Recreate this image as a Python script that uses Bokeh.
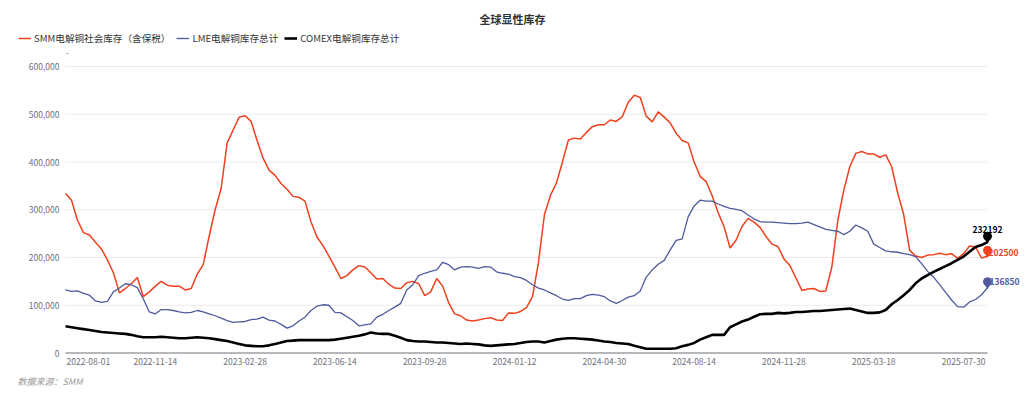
from bokeh.plotting import figure
from bokeh.models import ColumnDataSource, Range1d, Legend, LegendItem
from bokeh.embed import file_html
from bokeh.resources import INLINE
from bokeh.core.properties import value

# ---------------- data (tonnes, weekly samples) ----------------
smm = [334000, 320000, 278000, 252000, 247000, 232000, 218000, 195000, 168000, 126000,
       135000, 145000, 158000, 118000, 128000, 140000, 150000, 142000, 140000, 140000,
       132000, 135000, 165000, 185000, 245000, 300000, 345000, 440000, 467000, 494000,
       497000, 485000, 445000, 408000, 383000, 372000, 355000, 343000, 328000, 326000,
       318000, 275000, 243000, 225000, 203000, 180000, 156000, 162000, 174000, 183000,
       180000, 168000, 155000, 156000, 144000, 136000, 135000, 147000, 150000, 145000,
       120000, 128000, 156000, 140000, 105000, 82000, 78000, 69000, 67000, 69000,
       72000, 74000, 69000, 68000, 84000, 83000, 87000, 95000, 118000, 190000,
       290000, 330000, 356000, 400000, 446000, 450000, 448000, 462000, 474000, 478000,
       478000, 488000, 485000, 495000, 525000, 540000, 535000, 496000, 484000, 505000,
       494000, 482000, 460000, 445000, 440000, 400000, 370000, 359000, 330000, 294000,
       265000, 220000, 236000, 265000, 282000, 274000, 263000, 244000, 228000, 223000,
       197000, 183000, 157000, 131000, 134000, 135000, 129000, 130000, 180000, 278000,
       341000, 390000, 418000, 422000, 417000, 417000, 410000, 415000, 390000, 335000,
       290000, 215000, 203000, 200000, 205000, 206000, 209000, 206000, 208000, 198000,
       208000, 224000, 222000, 199000, 202500]

lme = [132000, 129000, 130000, 125000, 121000, 109000, 106000, 108000, 128000, 136000,
       145000, 143000, 137000, 113000, 86000, 82000, 91000, 91000, 89000, 86000,
       84000, 85000, 89000, 86000, 82000, 78000, 73000, 68000, 64000, 65000,
       66000, 70000, 71000, 75000, 69000, 67000, 60000, 52000, 57000, 67000,
       75000, 89000, 98000, 101000, 100000, 85000, 84000, 76000, 68000, 57000,
       59000, 61000, 75000, 81000, 89000, 96000, 104000, 132000, 143000, 162000,
       167000, 171000, 174000, 190000, 185000, 174000, 180000, 181000, 180000, 177000,
       181000, 180000, 170000, 167000, 165000, 160000, 158000, 152000, 143000, 136000,
       132000, 126000, 120000, 113000, 110000, 114000, 114000, 120000, 123000, 121000,
       118000, 109000, 104000, 110000, 117000, 120000, 130000, 159000, 174000, 186000,
       194000, 216000, 236000, 239000, 285000, 308000, 320000, 318000, 318000, 312000,
       307000, 303000, 301000, 298000, 289000, 281000, 275000, 274000, 274000, 273000,
       272000, 271000, 271000, 272000, 274000, 269000, 264000, 259000, 257000, 255000,
       248000, 255000, 268000, 262000, 255000, 228000, 221000, 214000, 212000, 211000,
       208000, 206000, 202000, 187000, 171000, 159000, 143000, 127000, 111000, 97000,
       96000, 107000, 112000, 122000, 136850]

comex = [56000, 54000, 52000, 50000, 48000, 46000, 44000, 43000, 42000, 41000,
         40000, 38000, 35000, 33000, 33000, 33000, 34000, 33000, 32000, 31000,
         31000, 32000, 33000, 32000, 31000, 29000, 27000, 25000, 22000, 19000,
         16000, 15000, 14000, 14000, 16000, 19000, 22000, 25000, 26000, 27000,
         27000, 27000, 27000, 27000, 27000, 28000, 30000, 32000, 34000, 36000,
         39000, 43000, 41000, 40000, 40000, 36000, 32000, 27000, 25000, 24000,
         24000, 23000, 22000, 22000, 21000, 20000, 19000, 20000, 19000, 18000,
         16000, 15000, 16000, 17000, 18000, 19000, 21000, 23000, 24000, 24000,
         22000, 25000, 28000, 30000, 31000, 31000, 30000, 29000, 28000, 26000,
         24000, 23000, 21000, 20000, 19000, 15000, 12000, 9000, 9000, 9000,
         9000, 9000, 10000, 14000, 17000, 21000, 28000, 33000, 38000, 38000,
         38000, 54000, 60000, 66000, 70000, 76000, 81000, 82000, 82000, 84000,
         83000, 84000, 86000, 86000, 87000, 88000, 88000, 89000, 90000, 91000,
         92000, 93000, 90000, 87000, 84000, 84000, 85000, 90000, 102000, 111000,
         121000, 132000, 146000, 156000, 163000, 170000, 176000, 182000, 188000, 195000,
         202000, 212000, 222000, 226000, 232192]

tick_labels = ["2022-08-01", "2022-11-14", "2023-02-28", "2023-06-14", "2023-09-28",
               "2024-01-12", "2024-04-30", "2024-08-14", "2024-11-28", "2025-03-18",
               "2025-07-30"]
series_names = ["SMM电解铜社会库存（含保税）", "LME电解铜库存总计", "COMEX电解铜库存总计"]
title_text = "全球显性库存"
source_text = "数据来源：SMM"
y_ticks = [0, 100000, 200000, 300000, 400000, 500000, 600000]

# ---------------- layout / styling ----------------
FONT = "Noto Sans CJK SC"
RED, BLUE, BLACK = "#f0401e", "#4e5a9e", "#000000"
AXIS_C = "#6e7079"
LABEL_C = "#6e7079"

W, H = 1024, 399
PL, PR, PT, PB = 65.0, 987.0, 66.0, 352.5   # plotting area in canvas pixels
YMAX = 600000

n = len(smm)
S = (PR - PL) / (n - 1)        # px per sample
K = (PB - PT) / YMAX           # px per tonne


def dx(px):
    return (px - PL) / S


def dy(py):
    return (PB - py) / K


p = figure(width=W, height=H, output_backend="svg", toolbar_location=None, title=None,
           x_range=Range1d(dx(0), dx(W)), y_range=Range1d(dy(H), dy(0)),
           x_axis_location=None, y_axis_location=None, min_border=0)
p.outline_line_color = None
p.background_fill_color = "white"
p.border_fill_color = "white"
for g in list(p.grid):
    g.visible = False

x = list(range(n))
src = ColumnDataSource(dict(x=x, smm=smm, lme=lme, comex=comex))

# grid lines and x axis line from the tick values
grid_vals = [v for v in y_ticks if v > 0]
p.segment(x0=[0] * len(grid_vals), x1=[n - 1] * len(grid_vals), y0=grid_vals, y1=grid_vals,
          line_color="#ececec", line_width=1)
p.segment(x0=[0], x1=[n - 1], y0=[0], y1=[0], line_color=AXIS_C, line_width=1)

# y tick labels
p.text(x=[0] * len(y_ticks), y=y_ticks, text=["{:,}".format(v) for v in y_ticks],
       x_offset=-6, text_align="right", text_baseline="middle", text_color=LABEL_C,
       text_font=value(FONT), text_font_size="8.5px")

# x tick labels (every 15 weekly samples; first label left-aligned to the axis start)
step = 15
xt = [k * step for k in range(len(tick_labels))]
p.text(x=xt[:1], y=[0], text=tick_labels[:1], x_offset=1, y_offset=5,
       text_align="left", text_baseline="top", text_color=LABEL_C,
       text_font=value(FONT), text_font_size="8.5px")
p.text(x=xt[1:], y=[0] * (len(xt) - 1), text=tick_labels[1:], y_offset=5,
       text_align="center", text_baseline="top", text_color=LABEL_C,
       text_font=value(FONT), text_font_size="8.5px")

# series lines
r_smm = p.line("x", "smm", source=src, line_color=RED, line_width=1.5)
r_lme = p.line("x", "lme", source=src, line_color=BLUE, line_width=1.3)
r_cmx = p.line("x", "comex", source=src, line_color=BLACK, line_width=2.6)

# end-point pins and value labels
for arr, col, ox, oy, align in [(smm, RED, 1, -4, "left"), (lme, BLUE, 2, -6, "left"),
                                (comex, BLACK, 0, -13, "center")]:
    last = arr[-1]
    p.scatter([n - 1], [last + 6 / K], size=8, marker="circle", fill_color=col, line_color=col)
    p.scatter([n - 1], [last + 2 / K], size=5, marker="inverted_triangle",
              fill_color=col, line_color=col)
    p.text([n - 1], [last], text=["%d" % last], x_offset=ox, y_offset=oy,
           text_align=align, text_baseline="middle", text_color=col,
           text_font=value(FONT), text_font_size="8.5px", text_font_style="bold")

# title, unit mark, source
p.text(x=[dx(512)], y=[dy(18)], text=[title_text], text_align="center", text_baseline="middle",
       text_font=value(FONT), text_font_size="11px", text_font_style="bold",
       text_color="#333333")
p.text(x=[dx(67)], y=[dy(52)], text=["-"], text_align="center", text_baseline="middle",
       text_font=value(FONT), text_font_size="8px", text_color="#666666")
p.text(x=[dx(17)], y=[dy(381)], text=[source_text], text_align="left",
       text_baseline="middle", text_font=value(FONT), text_font_size="9px",
       text_font_style="italic", text_color="#999999")

# legend
legend = Legend(items=[LegendItem(label=series_names[0], renderers=[r_smm]),
                       LegendItem(label=series_names[1], renderers=[r_lme]),
                       LegendItem(label=series_names[2], renderers=[r_cmx])],
                orientation="horizontal", location=(18, H - 45),
                glyph_width=13, glyph_height=12, label_height=12, label_standoff=3,
                spacing=6, padding=0, margin=0, border_line_color=None,
                background_fill_alpha=0, label_text_font=FONT,
                label_text_font_size="9.6px", label_text_color="#333333")
p.add_layout(legend)

open("out.html", "w").write(file_html(p, INLINE))
